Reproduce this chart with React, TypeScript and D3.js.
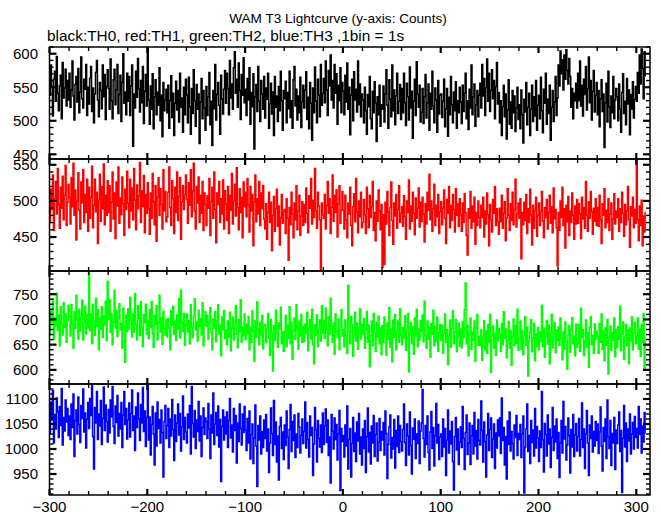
import React from 'react';
import * as d3 from 'd3';

// Time axis: 1 bin = 1 s, first bin at t = -300
const T_START = -300;

// TH0 (black) counts per bin
const TH0 = [
538,583,551,507,562,574,529,596,541,515,552,568,503,587,534,549,577,522,560,531,
571,520,546,589,537,501,554,566,528,578,512,543,595,533,519,562,547,584,508,550,
525,563,581,514,549,497,540,572,590,531,506,557,545,518,583,536,569,502,551,576,
548,517,592,530,503,561,577,524,546,584,511,539,568,499,557,600,526,543,509,571,
529,566,508,552,583,462,540,519,574,535,593,548,513,560,527,581,496,544,569,522,
608,531,495,552,517,570,488,536,561,509,543,523,579,500,538,476,557,515,531,547,
512,553,489,530,567,505,541,478,526,559,516,545,498,571,520,534,483,550,509,562,
538,497,565,521,480,548,511,576,530,492,554,517,540,466,528,563,503,545,519,486,
551,508,536,572,494,529,463,545,518,584,501,539,557,523,480,568,532,510,547,575,
526,571,548,509,590,534,555,517,579,603,541,562,520,586,545,502,569,538,594,527,
547,508,563,531,579,495,542,521,570,458,536,554,514,581,529,499,560,540,517,566,
504,549,532,571,489,525,556,510,543,478,566,520,537,499,551,515,574,530,486,545,
533,559,497,542,518,574,505,530,489,561,581,522,547,501,537,512,565,490,528,553,
519,546,573,502,535,488,557,526,471,549,512,580,530,497,562,538,506,584,523,541,
563,527,589,546,508,575,552,598,531,560,519,584,541,570,495,553,530,579,512,557,
544,509,568,528,586,517,550,479,538,562,500,573,531,547,513,589,524,555,506,540,
531,497,550,515,480,539,521,566,503,488,544,512,558,527,469,536,509,553,492,524,
517,552,498,540,576,523,489,561,532,506,583,515,546,494,537,571,511,529,554,502,
548,512,571,527,493,556,536,501,580,519,544,474,530,562,508,588,539,520,553,498,
513,548,496,536,569,504,527,555,486,541,517,574,522,497,549,531,483,560,510,538,
540,505,529,562,491,518,548,477,535,509,566,524,497,543,515,558,489,530,512,550,
528,496,553,514,541,571,503,530,487,547,519,583,509,536,555,492,524,545,506,538,
556,519,584,537,563,508,549,592,529,571,514,545,576,533,560,503,551,587,525,542,
497,530,478,521,553,506,540,473,516,561,495,528,489,545,512,537,484,519,550,502,
524,488,546,509,467,532,513,557,494,520,541,478,517,553,499,536,507,560,486,523,
538,503,565,515,482,547,526,571,495,532,511,553,471,520,545,499,528,566,508,534,
583,552,604,570,591,546,598,562,606,575,555,593,566,520,548,503,541,530,556,519,
571,530,589,522,553,507,562,539,581,516,548,595,527,560,501,544,575,513,538,557,
509,545,491,533,561,514,540,460,527,556,498,574,521,490,537,512,566,503,531,548,
536,500,555,518,483,542,570,511,529,494,563,525,546,479,539,517,558,504,532,551,
529,572,541,598,555,607,578,533,603,566
];

// TH1 (red) counts per bin
const TH1 = [
471,516,488,536,459,503,527,482,545,495,462,519,490,534,474,508,549,466,498,523,
505,468,532,492,552,480,515,446,500,539,487,461,526,497,543,470,509,484,530,458,
519,476,505,548,463,494,530,485,512,441,501,537,472,520,489,551,467,508,480,528,
484,521,458,499,540,475,511,448,526,493,547,469,504,481,533,496,452,516,488,541,
497,463,530,486,518,474,545,501,460,522,489,507,553,470,514,492,535,456,509,483,
525,489,454,511,476,538,499,467,521,444,505,532,480,517,495,461,543,486,513,471,
478,512,547,491,466,528,503,455,519,484,540,473,506,532,447,499,521,488,509,536,
502,469,525,494,543,478,514,552,486,461,520,497,533,470,508,483,527,459,511,495,
466,507,490,531,452,499,519,476,540,488,442,511,495,527,470,503,482,529,461,514,
496,473,520,455,508,487,538,468,500,523,479,546,491,460,517,484,505,449,526,492,
512,478,531,494,457,520,486,509,438,498,536,471,503,482,527,466,511,489,521,475,
461,496,447,484,512,470,498,431,480,506,458,489,516,465,493,439,477,509,469,485,
488,455,503,476,418,491,467,512,482,449,497,474,521,460,486,508,452,479,499,466,
495,470,518,483,456,507,490,531,468,501,477,545,486,462,512,493,474,405,497,480,
476,509,461,494,527,483,503,455,491,536,472,508,484,515,450,496,521,469,487,513,
487,461,508,474,449,497,482,519,466,438,492,510,471,531,485,456,500,478,512,463,
470,502,481,455,519,489,463,508,477,492,527,459,484,445,500,472,515,486,460,495,
408,481,412,498,468,513,485,452,491,526,473,440,497,479,509,462,488,521,470,483,
492,465,507,478,447,500,484,529,461,493,472,512,483,453,504,476,490,518,464,498,
471,505,482,443,496,468,512,487,537,474,500,458,489,523,466,494,478,509,455,485,
499,467,490,515,476,441,502,483,520,463,494,473,509,488,457,517,480,496,465,503,
481,458,497,470,510,484,452,425,489,476,513,462,493,471,505,440,484,466,500,477,
463,494,477,505,450,486,468,511,481,438,495,474,457,502,483,520,466,489,471,454,
490,471,508,462,483,499,445,476,517,480,459,496,473,512,467,488,530,464,482,497,
476,503,420,484,467,498,473,509,455,489,470,516,481,439,494,462,486,505,451,480,
497,466,485,513,472,449,491,477,502,461,484,508,469,492,456,518,475,488,463,410,
484,459,500,477,519,466,489,435,494,471,506,452,486,470,511,480,447,493,468,502,
469,496,482,448,505,475,491,462,527,480,458,499,476,513,485,454,490,472,503,466,
491,465,508,474,441,496,480,517,463,487,470,503,459,482,497,447,475,510,468,486,
477,503,458,489,470,512,483,451,495,467,486,520,474,436,492,479,505,463,488,469,
557,474,445,493,466,501,438,479,457,485
];

// TH2 (green) counts per bin
const TH2 = [
672,716,695,741,660,703,687,752,678,709,648,725,691,669,733,684,712,655,697,728,
705,667,729,690,643,715,682,748,699,661,720,676,705,738,659,694,726,671,710,683,
795,678,711,652,730,697,668,742,686,719,640,703,681,725,664,707,689,736,658,775,
701,739,674,712,650,695,758,683,717,666,704,731,679,692,643,722,688,615,709,676,
721,681,744,698,665,712,675,751,690,659,727,702,668,735,684,646,710,693,730,671,
697,662,719,684,735,671,645,708,690,727,659,693,748,675,703,651,716,682,669,700,
665,702,683,640,717,688,726,670,697,658,709,681,741,663,758,694,676,712,649,689,
711,675,698,652,729,684,664,706,741,679,695,657,718,686,702,669,733,648,691,715,
686,708,661,694,723,674,640,701,683,715,656,697,729,671,689,628,705,680,717,662,
679,650,697,665,714,638,682,705,659,690,727,671,644,700,676,739,655,684,668,711,
660,691,672,706,640,685,655,717,677,617,698,664,735,682,650,694,669,708,642,687,
690,654,681,712,663,629,700,674,598,688,658,718,671,645,693,680,724,652,676,637,
675,708,646,689,662,725,652,694,621,677,703,660,729,683,641,697,667,710,655,686,
656,691,672,714,638,683,700,661,720,650,612,690,668,709,646,679,699,657,727,673,
697,662,722,681,648,705,670,742,688,655,693,631,711,676,664,701,640,686,719,667,
680,646,699,668,633,768,675,652,706,689,627,670,714,657,693,641,684,721,661,690,
671,702,643,679,716,655,689,606,668,697,648,712,674,637,694,665,707,652,683,630,
688,654,705,672,629,693,660,723,645,681,616,699,664,710,640,676,697,655,721,669,
650,684,663,708,639,677,712,596,671,694,652,685,631,703,667,720,646,681,659,698,
676,709,656,736,668,643,697,661,684,625,692,670,718,648,686,657,705,637,674,690,
658,689,633,672,711,654,680,610,667,699,645,682,717,652,675,700,636,665,693,647,
681,644,696,663,719,772,652,688,628,670,703,641,675,659,697,617,683,710,649,666,
648,679,619,664,698,640,677,633,690,655,710,595,668,687,643,672,629,699,657,682,
670,637,692,650,715,662,681,624,659,696,643,678,609,665,701,648,688,653,720,639,
662,697,641,678,630,668,706,649,685,588,657,674,700,636,663,692,618,671,647,684,
640,675,656,728,646,683,625,666,698,651,689,612,673,710,644,661,694,634,679,658,
685,649,703,663,620,676,641,695,656,601,669,688,635,682,704,652,667,628,691,645,
653,690,637,722,664,680,628,657,699,645,673,605,684,706,650,668,633,691,660,677,
667,633,692,655,711,641,676,618,683,649,700,592,664,687,639,674,658,703,626,680,
645,686,660,726,638,671,695,621,665,690,648,679,612,683,657,705,640,673,694,652,
668,703,641,681,627,690,655,712,603,664
];

// TH3 (blue) counts per bin
const TH3 = [
1031,1094,1058,1117,1012,1069,1040,1102,1075,1023,1085,1047,1121,1008,1063,1036,1098,1054,1081,1027,
1066,1019,1090,1043,1110,985,1057,1078,1030,1104,1049,1013,1087,1061,1120,1034,1072,1002,1059,1093,
1041,1101,1067,1127,1025,960,1083,1052,1115,1019,1070,1046,1097,1009,1061,1124,1037,1088,1055,1014,
1079,1032,1098,1064,1125,1045,1011,1086,1053,1107,1026,1071,1040,1093,1003,1068,1115,1049,1081,1020,
1058,1092,1024,1071,1118,1037,1066,997,1084,1043,1112,1060,1017,1089,1052,1123,1035,1076,1005,1063,
1129,1018,1064,988,1049,1085,1030,968,1072,1006,1094,1041,1059,1012,1078,1033,944,1055,1087,1021,
1047,1081,1003,1060,1026,1099,1039,977,1068,1015,1052,1090,1028,1071,996,1044,1106,1019,1063,1034,
1012,1070,1042,1087,990,1125,1051,1024,1077,1001,1058,1035,1095,1016,1066,985,1043,1082,1029,1062,
1055,1021,1091,1040,981,1068,1032,1112,1009,1050,1073,1027,1086,1004,1059,935,1045,1078,1018,1064,
1030,1074,1003,1057,1101,1022,1048,994,1081,1037,1067,972,1052,1015,1090,1041,1008,1070,1033,1085,
1038,997,1061,1012,1076,980,1029,1050,971,1022,1088,1006,925,1047,1018,1066,990,1035,1003,1058,
1021,1069,996,1040,953,1012,1082,1031,987,1097,1009,1054,974,1026,938,1045,1063,1001,1034,979,
1048,1007,1076,1024,961,1039,1089,995,1055,1017,1068,983,1030,1003,1071,1044,992,1027,1060,1011,
1035,1094,1002,1053,1019,984,1066,1027,1043,947,1010,1083,1038,974,1057,1021,1004,1048,993,1072,
1009,1046,1080,1013,1058,987,1024,932,1069,1036,1000,1062,1019,1049,978,1030,1077,917,1041,1015,
1027,984,1048,1006,1086,960,1019,1041,944,1011,1063,995,1032,975,1054,1016,1071,990,1024,968,
1040,1001,1057,953,1025,1082,994,1033,970,1046,1012,1067,985,1029,1052,976,1014,1061,997,1035,
1018,1053,988,1076,1031,941,1009,1044,1068,982,1023,1000,1059,962,1037,1005,1066,993,1047,1015,
996,1039,1090,1013,967,1050,1026,988,1074,1007,950,1042,1019,1060,981,1030,1011,1056,971,1036,
1052,1119,1021,984,1047,1009,1066,993,958,1034,1075,1001,1043,966,1027,1091,1012,1049,979,1024,
1030,985,1060,1004,1041,947,1018,1078,992,1036,1010,1055,975,918,1025,1063,998,1040,969,1014,
1044,1003,1085,1021,959,1033,1068,989,1012,1052,969,1026,1047,990,1073,1006,1037,980,1059,1017,
1008,1096,1037,974,1054,1015,944,1028,1071,997,1039,1062,983,1020,1050,961,1032,1002,1058,1026,
1062,991,1102,1017,1043,968,1025,940,1056,1009,1074,996,1035,1011,980,1048,1023,1067,987,1031,
1019,1049,983,1030,1066,912,1004,1040,1090,995,1027,971,1057,1013,1038,986,1081,1002,1045,1022,
975,1036,1003,1115,1018,954,1051,1029,986,1068,1010,1040,963,1023,1083,997,1046,1014,1060,981,
1033,943,1012,1057,992,1095,1020,1045,978,1008,1062,1027,952,1039,1004,1069,985,1028,1051,996,
1025,1061,986,1019,1092,1003,1040,961,1030,1077,1012,947,1048,1021,1066,994,1035,1006,1055,1017,
1050,991,1034,1084,1006,956,1043,1015,1060,981,1098,1024,1001,1057,967,1031,1012,1063,959,1038,
1011,1048,1074,995,1037,913,1021,1087,1004,1052,975,1040,1016,1070,990,1030,1053,1000,1065,1023,
1041,1002,1085,1029,1060,992,1046,1014,1073,1031
];

const SERIES = [TH0, TH1, TH2, TH3];
const COLORS = ['#000000', '#ff0000', '#00ff00', '#0000ff'];
const X_DOMAIN: [number, number] = [-300, 314];
const X_TICK_LABELS = [-300, -200, -100, 0, 100, 200, 300];
const Y_DOMAINS: [number, number][] = [[443, 610], [403, 558], [572, 796], [908, 1130]];
const Y_TICK_LABELS = [[450, 500, 550, 600], [450, 500, 550], [600, 650, 700, 750], [950, 1000, 1050, 1100]];
const TITLE = 'WAM T3 Lightcurve (y-axis: Counts)';
const SUBTITLE = 'black:TH0, red:TH1, green:TH2, blue:TH3 ,1bin = 1s';

const W = 661, H = 515;
const LEFT = 49.5, RIGHT = 650;
const PANEL_EDGES = [47, 159, 271, 384, 495];
const FONT = '"Liberation Sans", Arial, Helvetica, sans-serif';

const fmt = (v: number) => (v < 0 ? '\u2212' + Math.abs(v) : String(v));

export default function App() {
  const x = d3.scaleLinear().domain(X_DOMAIN).range([LEFT, RIGHT]);
  const xMinor = d3.range(-300, 314, 20);

  return (
    <svg width={W} height={H} style={{ position: 'absolute', left: 0, top: 0, background: '#fff' }}
      xmlns="http://www.w3.org/2000/svg">
      <rect x={0} y={0} width={W} height={H} fill="#fff" />
      <text x={338} y={23} textAnchor="middle" fontFamily={FONT} fontSize={13.6} fill="#000">{TITLE}</text>
      <text x={47} y={41} fontFamily={FONT} fontSize={15.4} fill="#000">{SUBTITLE}</text>
      <defs>
        {SERIES.map((_, p) => (
          <clipPath id={`clip${p}`} key={p}>
            <rect x={LEFT} y={PANEL_EDGES[p]} width={RIGHT - LEFT} height={PANEL_EDGES[p + 1] - PANEL_EDGES[p]} />
          </clipPath>
        ))}
      </defs>
      {SERIES.map((data, p) => {
        const top = PANEL_EDGES[p], bot = PANEL_EDGES[p + 1];
        const y = d3.scaleLinear().domain(Y_DOMAINS[p]).range([bot, top]);
        const line = d3.line<number>()
          .x((_, i) => x(T_START + i))
          .y(d => y(d))
          .curve(d3.curveStepAfter);
        const [y0, y1] = Y_DOMAINS[p];
        const yMinor = d3.range(Math.ceil(y0 / 10) * 10, y1 + 0.001, 10);
        return (
          <g key={p}>
            <path d={line(data) || ''} fill="none" stroke={COLORS[p]} strokeWidth={1.5}
              strokeLinejoin="miter" clipPath={`url(#clip${p})`} />
            {xMinor.map(t => {
              const major = t % 100 === 0;
              const len = major ? 6 : 4;
              const sw = major ? 2.2 : 1.4;
              return (
                <g key={`xt${t}`} stroke="#000" strokeWidth={sw}>
                  <line x1={x(t)} x2={x(t)} y1={top} y2={top + len} />
                  <line x1={x(t)} x2={x(t)} y1={bot} y2={bot - len} />
                </g>
              );
            })}
            {yMinor.map(v => {
              const major = v % 50 === 0;
              const len = major ? 7 : 4;
              const sw = major ? 2.2 : 1.4;
              return (
                <g key={`yt${v}`} stroke="#000" strokeWidth={sw}>
                  <line x1={LEFT} x2={LEFT + len} y1={y(v)} y2={y(v)} />
                  <line x1={RIGHT} x2={RIGHT - len} y1={y(v)} y2={y(v)} />
                </g>
              );
            })}
            {Y_TICK_LABELS[p].map(v => (
              <text key={`yl${v}`} x={38} y={y(v)} dy="0.36em" textAnchor="end"
                fontFamily={FONT} fontSize={15} fill="#000">{v}</text>
            ))}
            <rect x={LEFT} y={top} width={RIGHT - LEFT} height={bot - top} fill="none" stroke="#000" strokeWidth={1.5} />
          </g>
        );
      })}
      {X_TICK_LABELS.map(t => (
        <text key={`xl${t}`} x={x(t)} y={512} textAnchor="middle" fontFamily={FONT} fontSize={15} fill="#000">{fmt(t)}</text>
      ))}
    </svg>
  );
}
